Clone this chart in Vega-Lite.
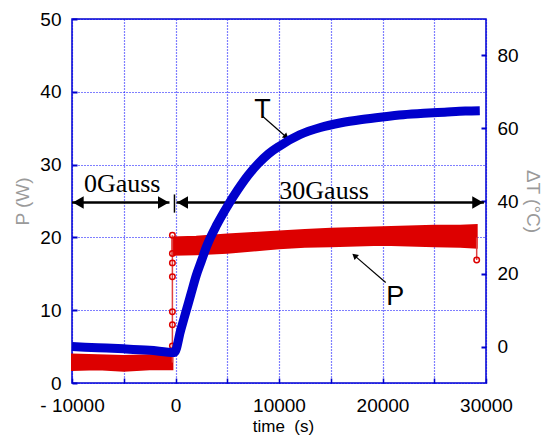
{
  "$schema": "https://vega.github.io/schema/vega-lite/v6.json",
  "width": 414,
  "height": 364,
  "autosize": {"type": "none"},
  "padding": {"left": 72, "top": 19, "right": 61, "bottom": 54},
  "background": "white",
  "config": {
    "view": {"stroke": "#0000cc", "strokeWidth": 1.5},
    "font": "Liberation Sans"
  },
  "datasets": {
    "pband": [
      {"phase": "0Gauss", "t": -10000, "lo": 1.8, "hi": 3.9},
      {"phase": "0Gauss", "t": -7500, "lo": 1.9, "hi": 3.8},
      {"phase": "0Gauss", "t": -5000, "lo": 1.7, "hi": 3.7},
      {"phase": "0Gauss", "t": -2500, "lo": 1.9, "hi": 3.8},
      {"phase": "0Gauss", "t": -300, "lo": 1.9, "hi": 3.8},
      {"phase": "30Gauss", "t": -300, "lo": 17.6, "hi": 20.0},
      {"phase": "30Gauss", "t": 2000, "lo": 17.7, "hi": 20.1},
      {"phase": "30Gauss", "t": 5000, "lo": 17.9, "hi": 20.4},
      {"phase": "30Gauss", "t": 7500, "lo": 18.2, "hi": 20.6},
      {"phase": "30Gauss", "t": 10000, "lo": 18.5, "hi": 20.8},
      {"phase": "30Gauss", "t": 12500, "lo": 18.7, "hi": 21.0},
      {"phase": "30Gauss", "t": 15000, "lo": 18.8, "hi": 21.2},
      {"phase": "30Gauss", "t": 17500, "lo": 18.9, "hi": 21.3},
      {"phase": "30Gauss", "t": 20000, "lo": 19.0, "hi": 21.4},
      {"phase": "30Gauss", "t": 22500, "lo": 18.9, "hi": 21.5},
      {"phase": "30Gauss", "t": 25000, "lo": 18.8, "hi": 21.6},
      {"phase": "30Gauss", "t": 27500, "lo": 18.7, "hi": 21.6},
      {"phase": "30Gauss", "t": 29100, "lo": 18.6, "hi": 21.7}
    ],
    "pjump": [
      {"grp": "jump", "t": -300, "P": 2.8, "mark": false},
      {"grp": "jump", "t": -300, "P": 5.1, "mark": true},
      {"grp": "jump", "t": -300, "P": 8.0, "mark": true},
      {"grp": "jump", "t": -300, "P": 9.8, "mark": true},
      {"grp": "jump", "t": -300, "P": 14.6, "mark": true},
      {"grp": "jump", "t": -300, "P": 16.5, "mark": true},
      {"grp": "jump", "t": -300, "P": 17.8, "mark": true},
      {"grp": "jump", "t": -300, "P": 20.3, "mark": true},
      {"grp": "end", "t": 29100, "P": 20.0, "mark": false},
      {"grp": "end", "t": 29100, "P": 16.9, "mark": true}
    ],
    "temp": [
      {"t": -10000, "T": 0.0},
      {"t": -7500, "T": -0.3},
      {"t": -5000, "T": -0.6},
      {"t": -2500, "T": -1.0},
      {"t": -100, "T": -1.6},
      {"t": 500, "T": 4.5},
      {"t": 1000, "T": 9.5},
      {"t": 1500, "T": 14.5},
      {"t": 2000, "T": 19.5},
      {"t": 2500, "T": 23.5},
      {"t": 3000, "T": 27.5},
      {"t": 4000, "T": 33.5},
      {"t": 5000, "T": 38.5},
      {"t": 6000, "T": 43.0},
      {"t": 7000, "T": 47.0},
      {"t": 8000, "T": 50.3},
      {"t": 9000, "T": 53.0},
      {"t": 10000, "T": 55.0},
      {"t": 12000, "T": 58.2},
      {"t": 14000, "T": 60.2},
      {"t": 16000, "T": 61.5},
      {"t": 18000, "T": 62.4},
      {"t": 20000, "T": 63.1},
      {"t": 22000, "T": 63.7},
      {"t": 24000, "T": 64.1},
      {"t": 26000, "T": 64.4},
      {"t": 28000, "T": 64.7},
      {"t": 29400, "T": 64.8}
    ],
    "hspans": [
      {"name": "0Gauss", "x1": -10000, "x2": -580, "v": 24.8},
      {"name": "30Gauss", "x1": 100, "x2": 29800, "v": 24.8}
    ],
    "marker": [{"t": -100, "v": 23.4, "v2": 25.9}],
    "pointers": [
      {"name": "T", "t1": 8440, "v1": 36.6, "t2": 10700, "v2": 33.8},
      {"name": "P", "t1": 20310, "v1": 13.8, "t2": 17300, "v2": 17.5}
    ],
    "heads": [
      {"kind": "left", "t": -9400, "v": 24.8},
      {"kind": "right", "t": -1160, "v": 24.8},
      {"kind": "left", "t": 680, "v": 24.8},
      {"kind": "right", "t": 29200, "v": 24.8},
      {"kind": "T", "t": 10700, "v": 33.8},
      {"kind": "P", "t": 17300, "v": 17.5}
    ],
    "labels": [
      {"kind": "gauss", "label": "0Gauss", "t": -5150, "v": 26.2},
      {"kind": "gauss", "label": "30Gauss", "t": 14360, "v": 25.3},
      {"kind": "curve", "label": "T", "t": 8410, "v": 36.4},
      {"kind": "curve", "label": "P", "t": 21230, "v": 10.75}
    ]
  },
  "layer": [
    {
      "layer": [
        {
          "data": {"name": "pband"},
          "mark": {"type": "area", "color": "#dd0000", "stroke": "#dd0000", "strokeWidth": 2},
          "encoding": {
            "x": {
              "field": "t", "type": "quantitative",
              "scale": {"domain": [-10000, 30000], "nice": false, "zero": false},
              "axis": {
                "values": [-10000, -5000, 0, 5000, 10000, 15000, 20000, 25000, 30000],
                "labelExpr": "datum.value % 10000 == 0 ? (datum.value < 0 ? '- ' + abs(datum.value) : '' + datum.value) : ''",
                "labelFontSize": 19, "labelColor": "black", "labelFont": "Liberation Sans",
                "labelPadding": 18, "labelFlush": false, "labelOverlap": false,
                "tickSize": -5, "tickColor": "#0000cc", "tickWidth": 1.5,
                "grid": true, "gridColor": "#0000ff", "gridDash": [1, 2], "gridWidth": 1.2,
                "domain": false,
                "title": "time\u00a0\u00a0(s)", "titleFontSize": 17, "titleFontWeight": "normal",
                "titleColor": "black", "titleFont": "Liberation Sans",
                "titleX": 211, "titleY": 48, "titleAlign": "center", "titleBaseline": "alphabetic"
              }
            },
            "y": {
              "field": "lo", "type": "quantitative",
              "scale": {"domain": [0, 50], "nice": false, "zero": false},
              "axis": {
                "values": [0, 5, 10, 15, 20, 25, 30, 35, 40, 45, 50],
                "labelExpr": "datum.value % 10 == 0 ? '' + datum.value : ''",
                "labelFontSize": 19, "labelColor": "black", "labelFont": "Liberation Sans",
                "labelPadding": 16, "labelFlush": false, "labelOverlap": false,
                "tickSize": -5, "tickColor": "#0000cc", "tickWidth": 2,
                "tickOpacity": {"condition": {"test": "datum.value % 10 == 0", "value": 1}, "value": 0},
                "grid": true, "gridColor": "#0000ff", "gridDash": [1, 2], "gridWidth": 1.2,
                "domain": false,
                "title": "P (W)", "titleFontSize": 19, "titleFontWeight": "normal",
                "titleColor": "#9a9a9a", "titleFont": "Liberation Sans",
                "titleAngle": -90, "titleX": -50, "titleY": 182, "titleAlign": "center", "titleBaseline": "middle"
              }
            },
            "y2": {"field": "hi"},
            "detail": {"field": "phase"}
          }
        },
        {
          "data": {"name": "pjump"},
          "mark": {"type": "line", "color": "#e04040", "strokeWidth": 1.5},
          "encoding": {
            "x": {"field": "t", "type": "quantitative"},
            "y": {"field": "P", "type": "quantitative", "scale": {"domain": [0, 50], "nice": false, "zero": false}},
            "detail": {"field": "grp"},
            "order": {"field": "P"}
          }
        },
        {
          "data": {"name": "pjump"},
          "transform": [{"filter": "datum.mark"}],
          "mark": {"type": "point", "shape": "circle", "filled": false, "color": "#dd0000", "size": 30, "strokeWidth": 1.5, "opacity": 1},
          "encoding": {
            "x": {"field": "t", "type": "quantitative"},
            "y": {"field": "P", "type": "quantitative"}
          }
        },
        {
          "data": {"name": "hspans"},
          "mark": {"type": "rule", "color": "black", "strokeWidth": 2.5},
          "encoding": {
            "x": {"field": "x1", "type": "quantitative"},
            "x2": {"field": "x2"},
            "y": {"field": "v", "type": "quantitative"}
          }
        },
        {
          "data": {"name": "marker"},
          "mark": {"type": "rule", "color": "black", "strokeWidth": 1.5},
          "encoding": {
            "x": {"field": "t", "type": "quantitative"},
            "y": {"field": "v", "type": "quantitative"},
            "y2": {"field": "v2"}
          }
        },
        {
          "data": {"name": "pointers"},
          "mark": {"type": "rule", "color": "black", "strokeWidth": 1.2},
          "encoding": {
            "x": {"field": "t1", "type": "quantitative"},
            "x2": {"field": "t2"},
            "y": {"field": "v1", "type": "quantitative"},
            "y2": {"field": "v2"}
          }
        },
        {
          "data": {"name": "heads"},
          "transform": [{"filter": "datum.kind == 'left'"}],
          "mark": {"type": "point", "shape": "triangle-left", "filled": true, "color": "black", "size": 160, "opacity": 1},
          "encoding": {
            "x": {"field": "t", "type": "quantitative"},
            "y": {"field": "v", "type": "quantitative"}
          }
        },
        {
          "data": {"name": "heads"},
          "transform": [{"filter": "datum.kind == 'right'"}],
          "mark": {"type": "point", "shape": "triangle-right", "filled": true, "color": "black", "size": 160, "opacity": 1},
          "encoding": {
            "x": {"field": "t", "type": "quantitative"},
            "y": {"field": "v", "type": "quantitative"}
          }
        },
        {
          "data": {"name": "heads"},
          "transform": [{"filter": "datum.kind == 'T'"}],
          "mark": {"type": "point", "shape": "triangle-up", "angle": 131, "filled": true, "color": "black", "size": 45, "opacity": 1},
          "encoding": {
            "x": {"field": "t", "type": "quantitative"},
            "y": {"field": "v", "type": "quantitative"}
          }
        },
        {
          "data": {"name": "heads"},
          "transform": [{"filter": "datum.kind == 'P'"}],
          "mark": {"type": "point", "shape": "triangle-up", "angle": -49, "filled": true, "color": "black", "size": 45, "opacity": 1},
          "encoding": {
            "x": {"field": "t", "type": "quantitative"},
            "y": {"field": "v", "type": "quantitative"}
          }
        },
        {
          "data": {"name": "labels"},
          "transform": [{"filter": "datum.kind == 'gauss'"}],
          "mark": {"type": "text", "font": "Liberation Serif", "fontSize": 26, "color": "black", "align": "center", "baseline": "alphabetic"},
          "encoding": {
            "x": {"field": "t", "type": "quantitative"},
            "y": {"field": "v", "type": "quantitative"},
            "text": {"field": "label"}
          }
        },
        {
          "data": {"name": "labels"},
          "transform": [{"filter": "datum.kind == 'curve'"}],
          "mark": {"type": "text", "font": "Liberation Sans", "fontSize": 27, "color": "black", "align": "center", "baseline": "alphabetic"},
          "encoding": {
            "x": {"field": "t", "type": "quantitative"},
            "y": {"field": "v", "type": "quantitative"},
            "text": {"field": "label"}
          }
        }
      ]
    },
    {
      "data": {"name": "temp"},
      "mark": {"type": "line", "color": "#0000cc", "strokeWidth": 9, "interpolate": "monotone"},
      "encoding": {
        "x": {"field": "t", "type": "quantitative"},
        "y": {
          "field": "T", "type": "quantitative",
          "scale": {"domain": [-10, 90], "nice": false, "zero": false},
          "axis": {
            "orient": "right",
            "values": [0, 20, 40, 60, 80],
            "labelFontSize": 19, "labelColor": "black", "labelFont": "Liberation Sans",
            "labelPadding": 16, "labelFlush": false, "labelOverlap": false,
            "tickSize": -5, "tickColor": "#0000cc", "tickWidth": 2,
            "grid": false, "domain": false,
            "title": "ΔT (°C)", "titleFontSize": 19, "titleFontWeight": "normal",
            "titleColor": "#9a9a9a", "titleFont": "Liberation Sans",
            "titleAngle": 90, "titleX": 46, "titleY": 182, "titleAlign": "center", "titleBaseline": "middle"
          }
        }
      }
    }
  ],
  "resolve": {"scale": {"y": "independent"}}
}
